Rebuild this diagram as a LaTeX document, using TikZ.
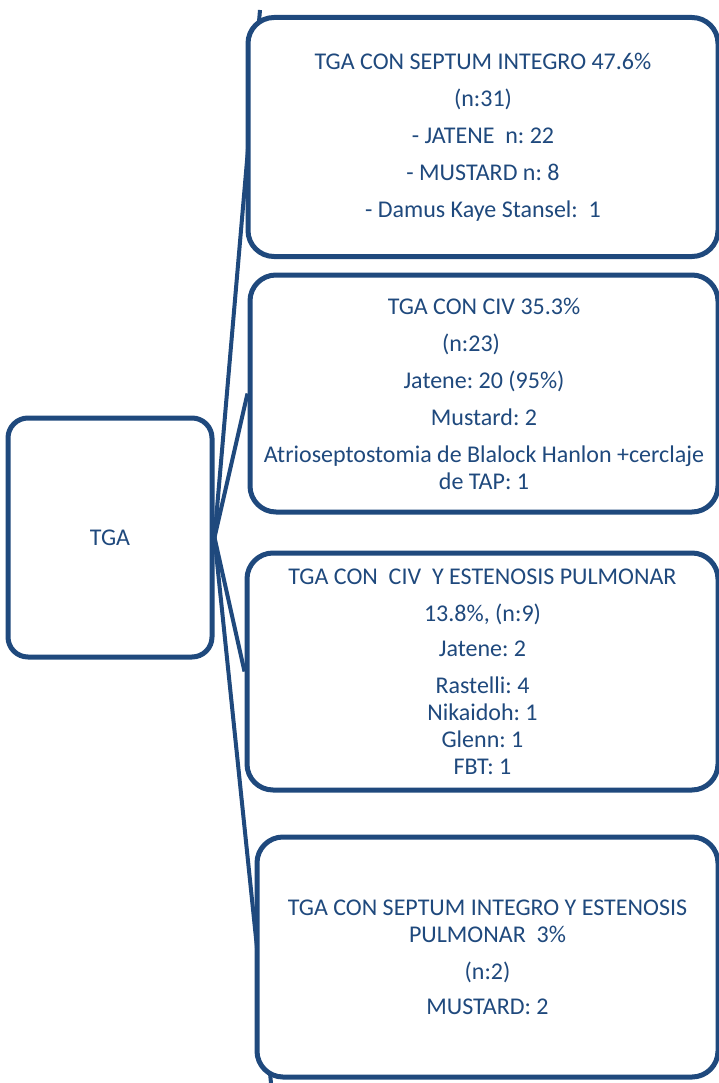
\documentclass[tikz,border=0pt]{standalone}
\usepackage{fontspec}
\setmainfont{Carlito}
\usetikzlibrary{backgrounds}
\definecolor{smartblue}{HTML}{1F497D}
\frenchspacing
\begin{document}
\begin{tikzpicture}[every node/.style={text=smartblue,font=\fontsize{24}{27}\selectfont}]
    \def\dx{1pt}
    \def\dy{-1pt}

    \tikzstyle{root}=[draw=smartblue,fill=white,line width=5pt,rounded corners=20pt,minimum width=204pt,minimum height=239pt,align=center]
    \tikzstyle{group}=[draw=smartblue,fill=white,line width=5pt,rounded corners=26pt,minimum height=239pt,align=center]

    \useasboundingbox (0,0) rectangle (719*\dx,1083*\dy);

    \node[root]  (tga) at (110*\dx,537.5*\dy) {TGA};
    \node[group,minimum width=470pt]  (sep) at (483*\dx,137*\dy) {TGA CON SEPTUM INTEGRO 47.6\%\\[10pt] (n:31)\\[10pt] - JATENE\ \ n: 22\\[10pt] - MUSTARD n: 8\\[10pt] - Damus Kaye Stansel:\ \ 1};
    \node[group,minimum width=468pt,minimum height=237pt]  (civ) at (484*\dx,393.5*\dy) {TGA CON CIV 35.3\%\\[10pt] (n:23)\kern26pt\\[10pt] Jatene: 20 (95\%)\\[10pt] Mustard: 2\\[10pt] Atrioseptostomia de Blalock Hanlon +cerclaje\\ de TAP: 1};
    \node[group,minimum width=471pt,minimum height=237pt]  (civep) at (482.5*\dx,671.5*\dy) {TGA CON\ \ CIV\ \ Y ESTENOSIS PULMONAR\\[10pt] 13.8\%, (n:9)\\[8pt] Jatene: 2\\[10pt] Rastelli: 4\\ Nikaidoh: 1\\ Glenn: 1\\ FBT: 1};
    \node[group,minimum width=461pt,minimum height=240pt]  (sepep) at (487.5*\dx,957*\dy) {TGA CON SEPTUM INTEGRO Y ESTENOSIS\\ PULMONAR\ \ 3\%\\[10pt] (n:2)\\[8pt] MUSTARD: 2};

    \coordinate (top) at (260*\dx,10*\dy);
    \coordinate (bottom) at (271*\dx,1083*\dy);

    \tikzstyle{link} = [draw=smartblue, line width=4pt]

    \begin{scope}[on background layer]
          \draw [link] (tga.east) -- (top);
          \draw [link] (tga.east) -- (civ.west);
          \draw [link] (tga.east) -- (civep.west);
          \draw [link] (tga.east) -- (bottom);
    \end{scope}

\end{tikzpicture}
\end{document}
